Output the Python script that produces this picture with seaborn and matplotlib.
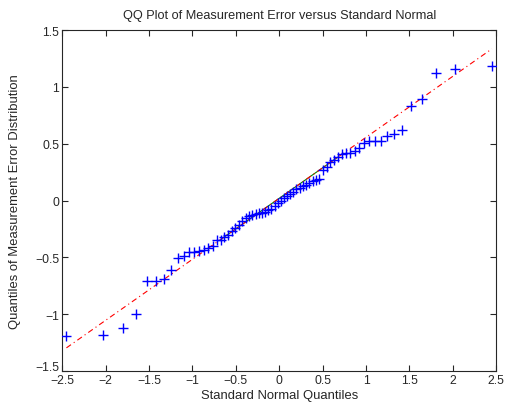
import numpy as np
import pandas as pd
import seaborn as sns
import matplotlib
matplotlib.use("Agg")
import matplotlib.pyplot as plt
import matplotlib.transforms as mtransforms
from statistics import NormalDist

# Seaborn settings
sns.set_style("ticks")
plt.rcParams['font.family'] = ['Liberation Sans', 'DejaVu Sans']

errors = [-1.19, -1.18, -1.12, -1.00, -0.71, -0.71, -0.69, -0.61, -0.505, -0.49,
          -0.455, -0.45, -0.44, -0.43, -0.42, -0.40, -0.35, -0.342, -0.32, -0.30,
          -0.265, -0.24, -0.215, -0.18, -0.15, -0.135, -0.125, -0.12, -0.11, -0.105,
          -0.10, -0.085, -0.075, -0.05, -0.02, 0.00, 0.02, 0.04, 0.06, 0.08,
          0.10, 0.11, 0.125, 0.14, 0.155, 0.17, 0.185, 0.19, 0.27, 0.30,
          0.34, 0.36, 0.382, 0.41, 0.415, 0.42, 0.44, 0.46, 0.51, 0.52,
          0.52, 0.525, 0.57, 0.585, 0.62, 0.83, 0.89, 1.12, 1.16, 1.18]

x_ticks = [-2.5, -2, -1.5, -1, -0.5, 0, 0.5, 1, 1.5, 2, 2.5]
y_ticks = [-1.5, -1, -0.5, 0, 0.5, 1, 1.5]

# Theoretical standard normal quantiles (plotting positions (i-0.5)/n)
n = len(errors)
nd = NormalDist()
df = pd.DataFrame({'theoretical': [nd.inv_cdf((i - 0.5) / n) for i in range(1, n + 1)],
                   'sample': np.sort(errors)})

# Reference line through the first and third quartiles
qx = np.percentile(df['theoretical'], [25, 75], method='hazen')
qy = np.percentile(df['sample'], [25, 75], method='hazen')
slope = (qy[1] - qy[0]) / (qx[1] - qx[0])
x_ext = np.array([df['theoretical'].min(), df['theoretical'].max()])
y_ext = qy[0] + slope * (x_ext - qx[0])

fig = plt.figure(figsize=(5.09, 4.14), dpi=100)
ax = fig.add_axes([0.122, 0.101, 0.853, 0.824])

ax.plot(qx, qy, color=(0, 0.5, 0), linewidth=0.8, zorder=2)
ax.plot(x_ext, y_ext, color='red', linestyle='-.', linewidth=0.8,
        dashes=(5, 3, 1, 3), zorder=3)
sns.scatterplot(data=df, x='theoretical', y='sample', marker='+', color='blue',
                s=60, linewidth=1.0, ax=ax, zorder=4)

ax.set_xlim(-2.5, 2.5)
ax.set_ylim(-1.5, 1.5)
ax.set_xticks(x_ticks)
ax.set_yticks(y_ticks)
ax.set_xticklabels([f"{t:g}".replace('-', '\u2212') for t in x_ticks])
ax.set_yticklabels([f"{t:g}".replace('-', '\u2212') for t in y_ticks])
ax.tick_params(direction='in', top=True, right=True, length=4, width=0.8,
               labelsize=8.8, pad=2)
for sp in ax.spines.values():
    sp.set_linewidth(0.8)

# lift the bottom y label a little, like the original
lbl = ax.get_yticklabels()[0]
lbl.set_transform(lbl.get_transform() + mtransforms.ScaledTranslation(0, 4 / 72, fig.dpi_scale_trans))

ax.set_xlabel('Standard Normal Quantiles', fontsize=9.4, labelpad=2)
ax.set_ylabel('Quantiles of Measurement Error Distribution', fontsize=9.4, labelpad=10)
ax.set_title('QQ Plot of Measurement Error versus Standard Normal', fontsize=9.2, pad=9)

plt.savefig("out.png", dpi=100)
